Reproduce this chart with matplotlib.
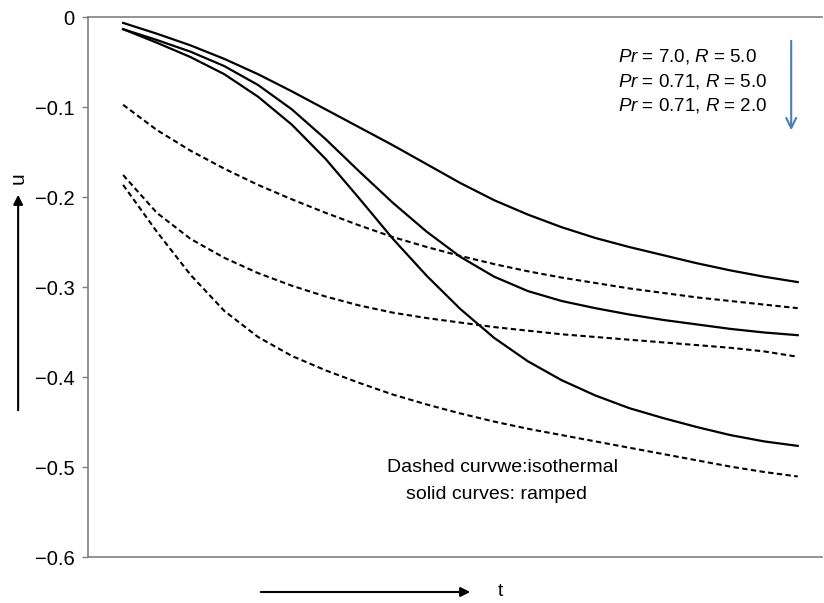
import matplotlib.pyplot as plt
from matplotlib.patches import FancyArrowPatch

plt.rcParams['font.family'] = ['Liberation Sans', 'DejaVu Sans']
plt.rcParams['mathtext.fontset'] = 'custom'
plt.rcParams['mathtext.rm'] = 'Liberation Sans'
plt.rcParams['mathtext.it'] = 'Liberation Sans:italic'

# time axis (no tick labels drawn)
t = [0.0, 0.05, 0.1, 0.15, 0.2, 0.25, 0.3, 0.35, 0.4, 0.45, 0.5,
     0.55, 0.6, 0.65, 0.7, 0.75, 0.8, 0.85, 0.9, 0.95, 1.0]

# ramped wall temperature (solid)
solid_pr7_r5 = [-0.006, -0.018, -0.031, -0.046, -0.063, -0.082, -0.102, -0.122, -0.142, -0.163, -0.184,
                -0.203, -0.219, -0.233, -0.245, -0.255, -0.264, -0.273, -0.281, -0.288, -0.294]
solid_pr071_r5 = [-0.013, -0.025, -0.038, -0.054, -0.075, -0.102, -0.135, -0.171, -0.206, -0.238, -0.266,
                  -0.288, -0.304, -0.315, -0.323, -0.330, -0.336, -0.341, -0.346, -0.350, -0.353]
solid_pr071_r2 = [-0.013, -0.028, -0.044, -0.063, -0.088, -0.119, -0.157, -0.201, -0.246, -0.287, -0.324,
                  -0.356, -0.382, -0.403, -0.420, -0.434, -0.445, -0.455, -0.464, -0.471, -0.476]

# isothermal wall (dashed)
dash_pr7_r5 = [-0.097, -0.125, -0.148, -0.168, -0.186, -0.202, -0.217, -0.231, -0.244, -0.255, -0.265,
               -0.274, -0.282, -0.289, -0.295, -0.301, -0.306, -0.311, -0.315, -0.319, -0.323]
dash_pr071_r5 = [-0.175, -0.217, -0.246, -0.267, -0.284, -0.298, -0.310, -0.320, -0.328, -0.334, -0.339,
                 -0.344, -0.348, -0.352, -0.355, -0.358, -0.361, -0.364, -0.367, -0.371, -0.377]
dash_pr071_r2 = [-0.186, -0.238, -0.286, -0.326, -0.355, -0.376, -0.392, -0.406, -0.419, -0.430, -0.440,
                 -0.449, -0.457, -0.464, -0.471, -0.478, -0.485, -0.492, -0.499, -0.505, -0.510]

yticks = [-0.6, -0.5, -0.4, -0.3, -0.2, -0.1, 0.0]
ytick_labels = ['\u22120.6', '\u22120.5', '\u22120.4', '\u22120.3', '\u22120.2', '\u22120.1', '0']

fig = plt.figure(figsize=(8.24, 6.03), dpi=100)
ax = fig.add_axes([0.1068, 0.0755, 0.8908, 0.8955])

for y in [solid_pr7_r5, solid_pr071_r5, solid_pr071_r2]:
    ax.plot(t, y, color='black', lw=1.6, solid_joinstyle='round')
for y in [dash_pr7_r5, dash_pr071_r5, dash_pr071_r2]:
    ax.plot(t, y, color='black', lw=1.5, linestyle=(0, (2.6, 1.6)))

ax.set_xlim(-0.052, 1.036)
ax.set_ylim(-0.6, 0)
ax.set_yticks(yticks)
ax.set_yticklabels(ytick_labels)
ax.set_xticks([])
ax.tick_params(axis='y', direction='out', length=4, width=1, color='#808080',
               labelsize=14.5, pad=5.5)
for side in ['left', 'top', 'bottom']:
    ax.spines[side].set_color('#808080')
    ax.spines[side].set_linewidth(1.2)
ax.spines['right'].set_visible(False)

# parameter labels, arrow shows the order of the curves
params = [r'$\mathit{Pr}$ = 7.0, $\mathit{R}$ = 5.0',
          r'$\mathit{Pr}$ = 0.71, $\mathit{R}$ = 5.0',
          r'$\mathit{Pr}$ = 0.71, $\mathit{R}$ = 2.0']
for i, s in enumerate(params):
    ax.text(0.722, 0.927 - 0.045 * i, s, transform=ax.transAxes, fontsize=13.5, va='center')
ax.annotate('', xy=(0.958, 0.786), xytext=(0.958, 0.962), xycoords='axes fraction',
            arrowprops=dict(arrowstyle='->', color='#4a7ebb', lw=1.5, mutation_scale=18))

ax.text(0.565, 0.166, 'Dashed curvwe:isothermal', transform=ax.transAxes,
        fontsize=14, ha='center', va='center')
ax.text(0.557, 0.116, 'solid curves: ramped', transform=ax.transAxes,
        fontsize=14, ha='center', va='center')

# axis direction arrows
fig.text(0.022, 0.705, 'u', rotation=90, fontsize=15, ha='center', va='center')
fig.add_artist(FancyArrowPatch((0.022, 1 - 413 / 603), (0.022, 1 - 192 / 603),
                               transform=fig.transFigure, arrowstyle='-|>',
                               mutation_scale=14, color='black', lw=1.5))
fig.add_artist(FancyArrowPatch((258 / 824, 1 - 592 / 603), (473 / 824, 1 - 592 / 603),
                               transform=fig.transFigure, arrowstyle='-|>',
                               mutation_scale=14, color='black', lw=1.5))
fig.text(500 / 824, 1 - 592 / 603, 't', fontsize=14, ha='center', va='center')

fig.savefig('out.png', dpi=100)
